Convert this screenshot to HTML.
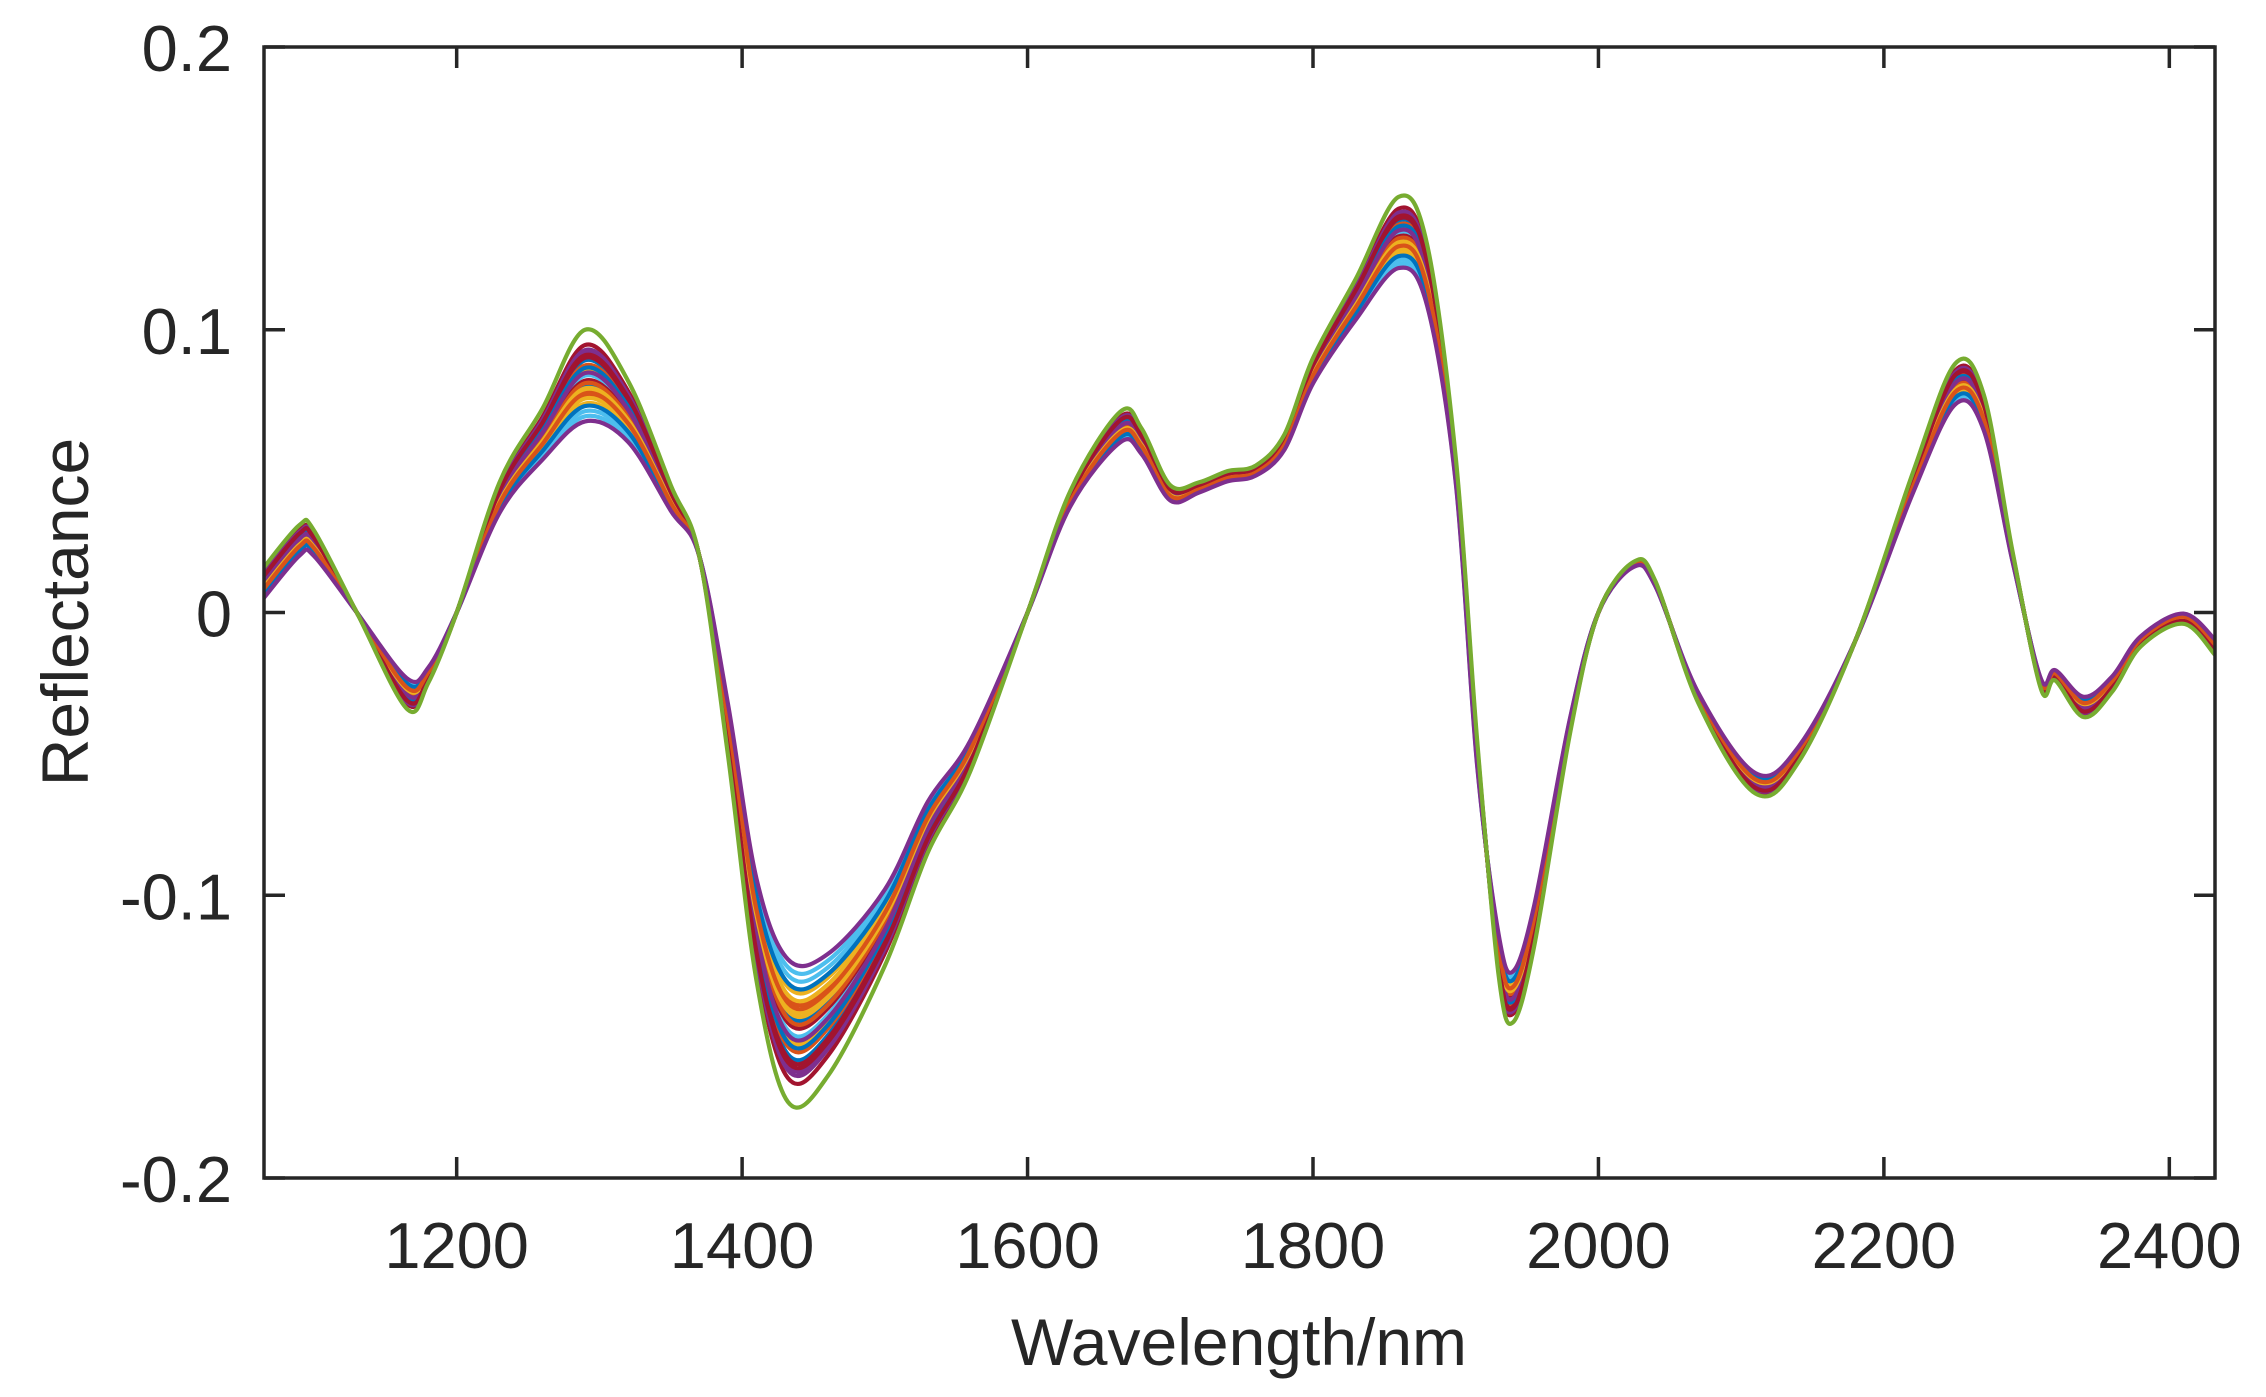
<!DOCTYPE html>
<html><head><meta charset="utf-8"><style>
html,body{margin:0;padding:0;background:#fff;}
svg{display:block;font-family:"Liberation Sans",Arial,sans-serif;}
</style></head><body>
<svg id="chart" width="2266" height="1397" viewBox="0 0 2266 1397" xmlns="http://www.w3.org/2000/svg">
<g id="series"></g>
<rect x="264" y="47" width="1951" height="1131" fill="none" stroke="#262626" stroke-width="3.5"/>
<g id="axes"></g>
<text x="1239" y="1365" font-size="66" text-anchor="middle" fill="#262626">Wavelength/nm</text>
<text x="0" y="0" font-size="66" text-anchor="middle" fill="#262626" transform="translate(88,612) rotate(-90)">Reflectance</text>
</svg>
<script>
const wavelengths=[1065,1090,1100,1130,1165,1180,1200,1230,1260,1290,1320,1350,1370,1390,1410,1432,1460,1500,1530,1560,1600,1630,1665,1680,1700,1720,1740,1760,1780,1800,1830,1860,1880,1900,1915,1930,1940,1955,1980,2000,2025,2040,2070,2110,2140,2180,2220,2250,2270,2290,2310,2320,2340,2360,2380,2410,2432];
const meanSpectrum=[0.010,0.025,0.024,0.000,-0.028,-0.022,0.000,0.040,0.062,0.082,0.070,0.040,0.020,-0.040,-0.110,-0.145,-0.140,-0.110,-0.075,-0.050,0.000,0.040,0.065,0.060,0.042,0.044,0.048,0.050,0.060,0.085,0.110,0.133,0.118,0.050,-0.050,-0.120,-0.135,-0.110,-0.040,0.000,0.017,0.010,-0.030,-0.060,-0.050,-0.010,0.045,0.080,0.070,0.020,-0.025,-0.022,-0.033,-0.025,-0.010,-0.002,-0.012];
const spread=[0.006,0.006,0.005,0,-0.006,-0.003,0,0.006,0.010,0.018,0.012,0.005,0,-0.010,-0.020,-0.028,-0.024,-0.015,-0.010,-0.006,0,0.003,0.006,0.005,0.003,0.002,0.002,0.002,0.003,0.005,0.008,0.014,0.012,0.005,0.005,-0.008,-0.010,-0.008,-0.003,0,0.001,0.001,-0.002,-0.004,-0.003,0,0.004,0.008,0.007,0.002,-0.002,-0.002,-0.004,-0.003,-0.002,-0.002,-0.003];
const sampleFactors=[0.7,0.55,0.4,0.3,0.2,0.1,0,-0.1,-0.2,-0.3,-0.45,-0.6,-0.7,0.6,0.45,0.25,-0.05,-0.35,-0.5,0.15,-0.15,0.5,-0.25,-0.8,1.0];
const sampleColors=["#A2142F","#7E2F8E","#0072BD","#D95319","#EDB120","#4DBEEE","#A2142F","#0072BD","#EDB120","#D95319","#EDB120","#4DBEEE","#4DBEEE","#7E2F8E","#A2142F","#0072BD","#D95319","#EDB120","#0072BD","#7E2F8E","#EDB120","#A2142F","#D95319","#7E2F8E","#77AC30"];
const xTicks=[1200,1400,1600,1800,2000,2200,2400];
const yTicks=[-0.2,-0.1,0,0.1,0.2];
const yTickLabels=["-0.2","-0.1","0","0.1","0.2"];

const L=264,R=2215,T=47,B=1178,X0=1065,X1=2432,Y0=-0.2,Y1=0.2;
const xs=v=>L+(v-X0)/(X1-X0)*(R-L);
const ys=v=>B-(v-Y0)/(Y1-Y0)*(B-T);
const NS="http://www.w3.org/2000/svg";
const g=document.getElementById('series');
function pathFor(vals){
  const p=wavelengths.map((w,i)=>[xs(w),ys(vals[i])]);
  let d="M"+p[0][0].toFixed(1)+","+p[0][1].toFixed(1);
  for(let i=0;i<p.length-1;i++){
    const p0=p[Math.max(0,i-1)],p1=p[i],p2=p[i+1],p3=p[Math.min(p.length-1,i+2)];
    const c1=[p1[0]+(p2[0]-p0[0])/6,p1[1]+(p2[1]-p0[1])/6];
    const c2=[p2[0]-(p3[0]-p1[0])/6,p2[1]-(p3[1]-p1[1])/6];
    d+="C"+c1[0].toFixed(1)+","+c1[1].toFixed(1)+" "+c2[0].toFixed(1)+","+c2[1].toFixed(1)+" "+p2[0].toFixed(1)+","+p2[1].toFixed(1);
  }
  return d;
}
sampleFactors.forEach((f,k)=>{
  const vals=meanSpectrum.map((m,i)=>m+f*spread[i]);
  const el=document.createElementNS(NS,'path');
  el.setAttribute('d',pathFor(vals));
  el.setAttribute('fill','none');
  el.setAttribute('stroke',sampleColors[k]);
  el.setAttribute('stroke-width','4.2');
  
  
  g.appendChild(el);
});
const ax=document.getElementById('axes');
xTicks.forEach(t=>{
  const x=xs(t);
  for(const [y1,y2] of [[B,B-21],[T,T+21]]){
    const l=document.createElementNS(NS,'line');
    l.setAttribute('x1',x);l.setAttribute('x2',x);l.setAttribute('y1',y1);l.setAttribute('y2',y2);
    l.setAttribute('stroke','#262626');l.setAttribute('stroke-width','3.5');
    
    
    ax.appendChild(l);
  }
  const tx=document.createElementNS(NS,'text');
  tx.setAttribute('x',x);tx.setAttribute('y',1268);
  tx.setAttribute('font-size','65');tx.setAttribute('text-anchor','middle');tx.setAttribute('fill','#262626');
  tx.textContent=t;
  
  
  ax.appendChild(tx);
});
yTicks.forEach((t,i)=>{
  const y=ys(t);
  for(const [x1,x2] of [[L,L+21],[R,R-21]]){
    const l=document.createElementNS(NS,'line');
    l.setAttribute('x1',x1);l.setAttribute('x2',x2);l.setAttribute('y1',y);l.setAttribute('y2',y);
    l.setAttribute('stroke','#262626');l.setAttribute('stroke-width','3.5');
    
    
    ax.appendChild(l);
  }
  const tx=document.createElementNS(NS,'text');
  tx.setAttribute('x',232);tx.setAttribute('y',y+24);
  tx.setAttribute('font-size','65');tx.setAttribute('text-anchor','end');tx.setAttribute('fill','#262626');
  tx.textContent=yTickLabels[i];
  
  
  ax.appendChild(tx);
});
</script>
</body></html>
